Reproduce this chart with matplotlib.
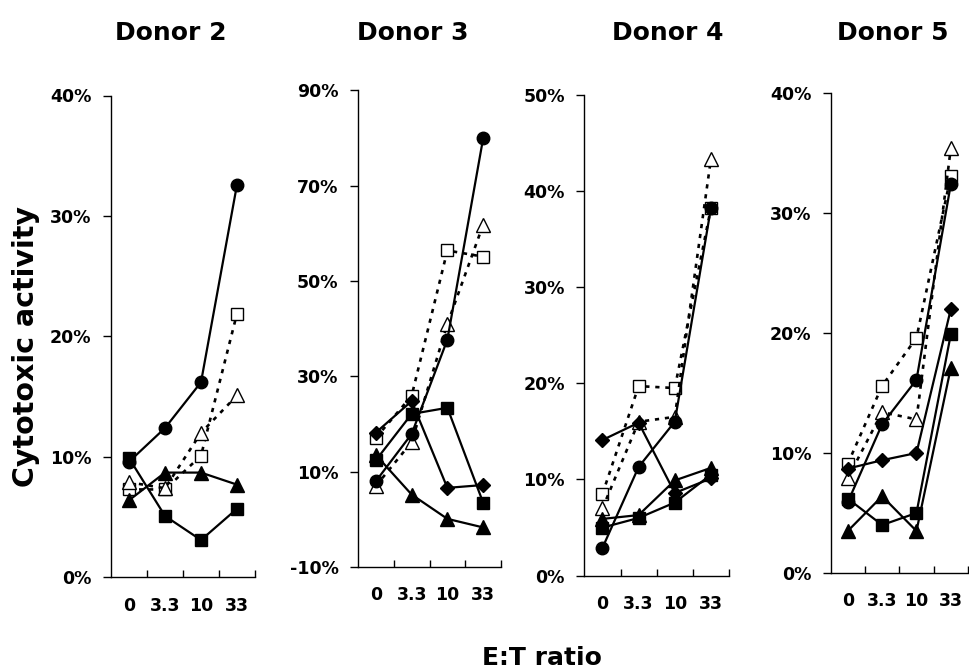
import matplotlib.pyplot as plt
from matplotlib.ticker import FixedLocator, FuncFormatter

plt.rcParams['font.family'] = ['DejaVu Sans']
plt.rcParams['font.weight'] = 'bold'

ratios = ['0', '3.3', '10', '33']
donors = ['Donor 2', 'Donor 3', 'Donor 4', 'Donor 5']

# cytotoxic activity (%) per donor, one list per effector type
circle = [[9.6, 12.4, 16.2, 32.6],
          [8.0, 17.9, 37.7, 79.9],
          [2.9, 11.3, 16.0, 38.2],
          [5.9, 12.4, 16.1, 32.4]]
diamond = [None,
           [18.2, 24.8, 6.6, 7.2],
           [14.1, 15.9, 8.6, 10.1],
           [8.7, 9.4, 10.0, 22.0]]
square = [[9.9, 5.1, 3.1, 5.7],
          [12.4, 22.1, 23.4, 3.5],
          [5.0, 6.0, 7.6, 10.5],
          [6.2, 4.0, 5.0, 19.9]]
triangle = [[6.4, 8.7, 8.7, 7.7],
            [13.5, 5.2, 0.1, -1.7],
            [5.9, 6.3, 9.9, 11.2],
            [3.5, 6.4, 3.5, 17.1]]
open_square = [[7.3, 7.3, 10.1, 21.9],
               [17.1, 25.9, 56.4, 55.1],
               [8.5, 19.7, 19.5, 38.2],
               [9.1, 15.6, 19.6, 33.1]]
open_triangle = [[7.9, 7.4, 12.0, 15.1],
                 [7.0, 16.2, 41.0, 61.8],
                 [7.0, 16.0, 16.5, 43.3],
                 [7.9, 13.4, 12.8, 35.4]]

yticks = [[0, 10, 20, 30, 40],
          [-10, 10, 30, 50, 70, 90],
          [0, 10, 20, 30, 40, 50],
          [0, 10, 20, 30, 40]]

# axes boxes in pixels: left, right, top, bottom
boxes = [(111, 255, 95.5, 577.4),
         (358, 501, 90.3, 567),
         (584.4, 729, 94.5, 575.7),
         (830.6, 968, 93, 573)]
title_x = [171, 413, 668, 893]

W, H = 970, 671
fig = plt.figure(figsize=(W / 100, H / 100), dpi=100)

x = range(len(ratios))
dash = (0, (1.6, 2.2))

for i in range(4):
    l, r, t, b = boxes[i]
    ax = fig.add_axes([l / W, (H - b) / H, (r - l) / W, (b - t) / H])

    ax.plot(x, open_square[i], linestyle=dash, color='black', lw=1.9,
            marker='s', ms=9, mfc='white', mec='black', mew=1, zorder=2)
    ax.plot(x, open_triangle[i], linestyle=dash, color='black', lw=1.9,
            marker='^', ms=10, mfc='white', mec='black', mew=1, zorder=2)
    ax.plot(x, circle[i], '-', color='black', lw=1.6, marker='o', ms=9, zorder=3)
    if diamond[i] is not None:
        ax.plot(x, diamond[i], '-', color='black', lw=1.6, marker='D', ms=7.5, zorder=3)
    ax.plot(x, triangle[i], '-', color='black', lw=1.6, marker='^', ms=10, zorder=3)
    ax.plot(x, square[i], '-', color='black', lw=1.6, marker='s', ms=9, zorder=3)

    ax.set_xlim(-0.5, 3.5)
    ax.set_ylim(yticks[i][0], yticks[i][-1])
    ax.set_xticks(list(x))
    ax.set_xticklabels(ratios, fontsize=12.5, fontweight='bold')
    ax.xaxis.set_minor_locator(FixedLocator([0.5, 1.5, 2.5, 3.5]))
    ax.tick_params(axis='x', which='major', length=0, pad=14)
    ax.tick_params(axis='x', which='minor', direction='in', length=5, width=1)
    ax.set_yticks(yticks[i])
    ax.yaxis.set_major_formatter(FuncFormatter(lambda v, p: '%d%%' % v))
    ax.tick_params(axis='y', direction='out', length=6, width=1, pad=8,
                   labelsize=12.5)
    for lab in ax.get_yticklabels():
        lab.set_fontweight('bold')

    ax.spines['top'].set_visible(False)
    ax.spines['right'].set_visible(False)
    ax.spines['left'].set_linewidth(1)
    ax.spines['bottom'].set_linewidth(1)
    ax.patch.set_alpha(0)

    fig.text(title_x[i] / W, 1 - 33 / H, donors[i], ha='center', va='center',
             fontsize=18, fontweight='bold')

fig.text(26 / W, 1 - 347 / H, 'Cytotoxic activity', rotation=90, ha='center',
         va='center', fontsize=20.5, fontweight='bold')
fig.text(542 / W, 1 - 658 / H, 'E:T ratio', ha='center', va='center',
         fontsize=18, fontweight='bold')

fig.savefig('out.png', dpi=100)
